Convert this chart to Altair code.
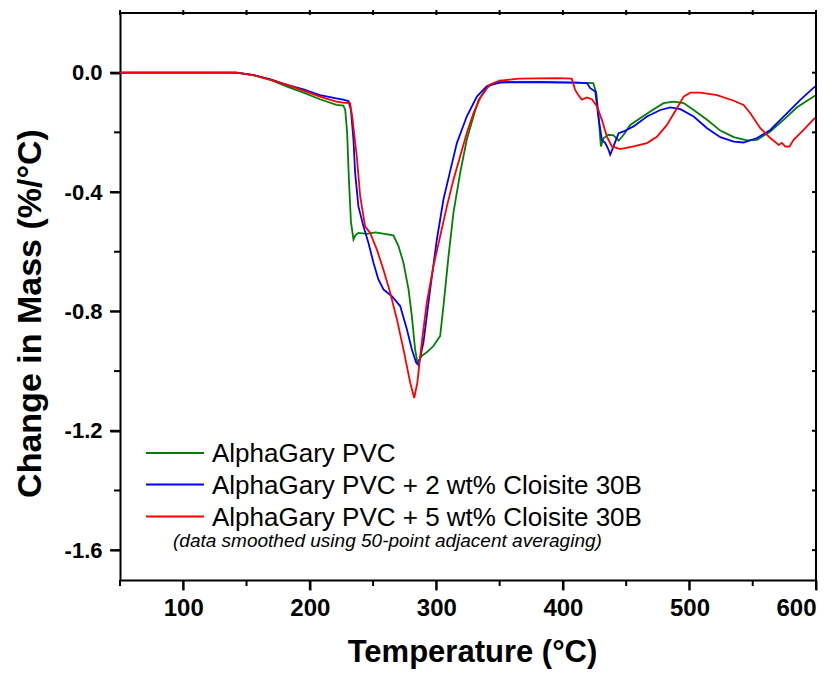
import altair as alt
import pandas as pd

# ---- data ----
series_names = ["AlphaGary PVC",
                "AlphaGary PVC + 2 wt% Cloisite 30B",
                "AlphaGary PVC + 5 wt% Cloisite 30B"]
series_colors = ["#008000", "#0000ff", "#ff0000"]

green_T = [50, 100, 142, 155, 169, 182, 195, 208, 221, 226.5, 228, 229.5, 230.8, 232.5, 234.5, 236,
           238.4, 245, 252, 259, 266, 270, 274, 278, 280.6, 283.2, 285, 288.5, 292.4, 297.7, 303,
           305.6, 309.6, 313.5, 318.8, 324, 329.3, 333.3, 340, 345, 352, 380, 410, 424, 426.5, 428.2,
           430, 432, 436, 440, 444, 448, 453.2, 461, 469, 479.5, 487.5, 495.4, 503.3, 513.9, 524.4,
           535, 545.5, 553.4, 563.9, 574.4, 585, 598.2, 600]
green_V = [0.0, 0.0, 0.0, -0.008, -0.024, -0.047, -0.067, -0.089, -0.108, -0.11, -0.125, -0.2, -0.35,
           -0.5, -0.559, -0.545, -0.537, -0.54, -0.535, -0.54, -0.545, -0.58, -0.637, -0.726, -0.815,
           -0.927, -0.97, -0.949, -0.937, -0.916, -0.882, -0.782, -0.615, -0.47, -0.336, -0.225,
           -0.147, -0.091, -0.05, -0.036, -0.031, -0.031, -0.033, -0.035, -0.07, -0.147, -0.247,
           -0.22, -0.208, -0.21, -0.228, -0.208, -0.175, -0.153, -0.13, -0.102, -0.097, -0.102,
           -0.125, -0.158, -0.194, -0.216, -0.227, -0.225, -0.197, -0.158, -0.116, -0.08, -0.076]

blue_T = [50, 100, 142, 155, 169, 182, 195, 208, 221, 226.4, 230.5, 232.5, 234.5, 235.8, 238.4, 242.4,
          246.3, 250.3, 254.2, 258.2, 264.8, 271.4, 276.7, 280.6, 284, 285.9, 289.8, 295.1, 300.4,
          305.6, 310.9, 316.2, 324, 332, 340, 350, 380, 410, 419, 421.6, 425.6, 428, 430.8, 433.5,
          436, 437.4, 440, 444, 448, 455.8, 466.4, 477, 484.9, 492.8, 503.3, 513.9, 524.4, 535,
          542.8, 553.4, 563.9, 574.4, 587.6, 598.2, 600]
blue_V = [0.0, 0.0, 0.0, -0.007, -0.022, -0.041, -0.056, -0.075, -0.086, -0.09, -0.095, -0.125, -0.225,
          -0.336, -0.448, -0.515, -0.57, -0.637, -0.693, -0.726, -0.749, -0.782, -0.86, -0.927,
          -0.971, -0.98, -0.904, -0.726, -0.559, -0.425, -0.33, -0.236, -0.147, -0.08, -0.045,
          -0.033, -0.032, -0.033, -0.035, -0.052, -0.063, -0.147, -0.225, -0.236, -0.258, -0.275,
          -0.247, -0.203, -0.197, -0.18, -0.147, -0.125, -0.116, -0.122, -0.147, -0.186, -0.216,
          -0.231, -0.234, -0.219, -0.192, -0.147, -0.091, -0.05, -0.045]

red_T = [50, 100, 142, 155, 169, 182, 195, 208, 221, 226.4, 231.8, 233.5, 237.1, 239.8, 243.7, 247.7,
         253, 258.2, 263.5, 268.8, 274, 279.3, 282.5, 285, 288.5, 292.4, 297.7, 303, 308.3, 313.5,
         318.8, 324, 329.3, 334.6, 342, 350, 365, 380, 395, 407, 409.7, 412, 415, 419, 423, 427,
         430.8, 434.8, 438.7, 445.3, 455.8, 466.4, 474.3, 482.2, 490.1, 495.4, 500.7, 508.6, 521.8,
         535, 542.8, 548.1, 556, 563.9, 570.5, 573, 575.8, 579, 582.3, 590.2, 598.2, 600]
red_V = [0.0, 0.0, 0.0, -0.008, -0.024, -0.041, -0.06, -0.08, -0.097, -0.1, -0.102, -0.147, -0.28,
         -0.414, -0.515, -0.537, -0.593, -0.66, -0.737, -0.826, -0.927, -1.038, -1.09, -1.038,
         -0.904, -0.771, -0.648, -0.548, -0.448, -0.359, -0.28, -0.203, -0.136, -0.085, -0.04,
         -0.027, -0.02, -0.019, -0.018, -0.02, -0.058, -0.074, -0.09, -0.083, -0.09, -0.113,
         -0.158, -0.214, -0.247, -0.256, -0.247, -0.236, -0.215, -0.175, -0.119, -0.08, -0.067,
         -0.067, -0.075, -0.094, -0.108, -0.136, -0.186, -0.219, -0.242, -0.235, -0.248, -0.248,
         -0.225, -0.192, -0.156, -0.15]

x_major = [100, 200, 300, 400, 500, 600]
x_minor = [50, 150, 250, 350, 450, 550]
y_major = [-1.6, -1.2, -0.8, -0.4, 0.0]
y_minor = [-1.4, -1.0, -0.6, -0.2]
x_all = sorted(x_major + x_minor)
y_all = sorted(y_major + y_minor)
note_text = "(data smoothed using 50-point adjacent averaging)"

# ---- build table ----
frames = []
for name, T, V in zip(series_names, [green_T, blue_T, red_T], [green_V, blue_V, red_V]):
    frames.append(pd.DataFrame({"T": T, "v": V, "series": name}))
df = pd.concat(frames, ignore_index=True)

W, H = 696, 567
FONT = "Liberation Sans"
xscale = alt.Scale(domain=[50, 600], nice=False, zero=False)
yscale = alt.Scale(domain=[-1.7, 0.2], nice=False, zero=False)

x_axis = alt.Axis(
    values=x_major, orient="bottom", format="d",
    tickSize=10, tickWidth=2, tickColor="black", domainWidth=2, domainColor="black",
    labelFont=FONT, labelFontSize=24, labelFontWeight="bold", labelColor="black",
    labelPadding=6, grid=False,
    title="Temperature (°C)", titleFont=FONT, titleFontSize=31, titleFontWeight="bold",
    titleColor="black", titleX=352, titleY=81, titleBaseline="alphabetic", titleAlign="center",
)
y_axis = alt.Axis(
    values=y_major, orient="left",
    labelExpr="(datum.value < -0.001 ? '-' : '') + format(abs(datum.value), '.1f')",
    tickSize=10, tickWidth=2, tickColor="black", domainWidth=2, domainColor="black",
    labelFont=FONT, labelFontSize=22, labelFontWeight="bold", labelColor="black",
    labelPadding=8, grid=False,
    title="Change in Mass (%/°C)", titleFont=FONT, titleFontSize=34, titleFontWeight="bold",
    titleColor="black", titleX=-80, titleY=300, titleBaseline="alphabetic", titleAngle=-90,
    titleAlign="center",
)

color_scale = alt.Scale(domain=series_names, range=series_colors)

lines = alt.Chart(df).mark_line(strokeWidth=1.8).encode(
    x=alt.X("T:Q", scale=xscale, axis=x_axis),
    y=alt.Y("v:Q", scale=yscale, axis=y_axis),
    color=alt.Color("series:N", scale=color_scale, legend=None),
    detail="series:N",
)


# ---- tick marks, placed through the shared scales (same axis definitions) ----
def xticks(vals, y0, y1):
    return alt.Chart(pd.DataFrame({"T": vals})).mark_rule(color="black", strokeWidth=2).encode(
        x=alt.X("T:Q", scale=xscale, axis=x_axis), y=alt.value(y0), y2=alt.value(y1))


def yticks(vals, x0, x1):
    return alt.Chart(pd.DataFrame({"v": vals})).mark_rule(color="black", strokeWidth=2).encode(
        y=alt.Y("v:Q", scale=yscale, axis=y_axis), x=alt.value(x0), x2=alt.value(x1))


tick_layers = [
    xticks(x_major, H, H + 10),      # bottom major
    xticks(x_minor, H, H + 6),       # bottom minor
    yticks(y_major, -10, 0),         # left major
    yticks(y_minor, -6, 0),          # left minor
    xticks(x_all, -3, 2),            # top
    yticks(y_all, W - 4, W),         # right (inward)
]

# top and right border lines
border = [
    alt.Chart(pd.DataFrame({"k": [0]})).mark_rule(color="black", strokeWidth=2).encode(
        x=alt.value(0), x2=alt.value(W), y=alt.value(0)),
    alt.Chart(pd.DataFrame({"k": [0]})).mark_rule(color="black", strokeWidth=2).encode(
        x=alt.value(W), y=alt.value(0), y2=alt.value(H)),
]

# ---- manual legend inside plot ----
legend_layers = []
row_y = [440, 471.5, 503.5]
for name, col, ry in zip(series_names, series_colors, row_y):
    one = pd.DataFrame({"label": [name]})
    legend_layers.append(
        alt.Chart(one).mark_rule(color=col, strokeWidth=1.8).encode(
            x=alt.value(26), x2=alt.value(84), y=alt.value(ry))
    )
    legend_layers.append(
        alt.Chart(one).mark_text(align="left", baseline="alphabetic", font=FONT,
                                 fontSize=26, color="black").encode(
            x=alt.value(92), y=alt.value(ry + 9), text="label:N")
    )
note = alt.Chart(pd.DataFrame({"note": [note_text]})).mark_text(
    align="left", baseline="alphabetic", font=FONT, fontSize=19, fontStyle="italic",
    color="black").encode(x=alt.value(53), y=alt.value(534), text="note:N")

chart = alt.layer(lines, *tick_layers, *border, *legend_layers, note).properties(
    width=W, height=H,
    autosize=alt.AutoSizeParams(type="none"),
    padding={"left": 112, "top": 5, "right": 15, "bottom": 89},
).configure_view(stroke=None).configure(background="white")

chart.save("out.html", embed_options={"renderer": "svg", "actions": False})
